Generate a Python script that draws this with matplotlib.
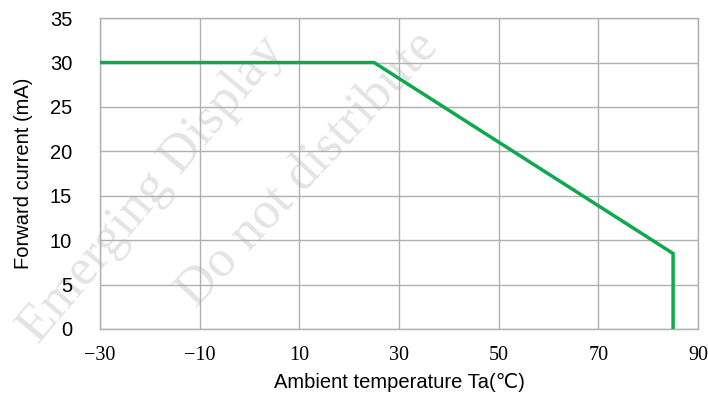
import numpy as np
import matplotlib.pyplot as plt

# Derating curve data
temp = [-30, 25, 85, 85]
current = [30, 30, 8.5, 0]

x_ticks = [-30, -10, 10, 30, 50, 70, 90]
y_ticks = [0, 5, 10, 15, 20, 25, 30, 35]

plt.rcParams['font.family'] = ['Liberation Sans', 'DejaVu Sans']

fig = plt.figure(figsize=(7.08, 3.94), dpi=100)
ax = fig.add_axes([0.1412, 0.165, 0.8447, 0.789])
ax.set_zorder(1)

# watermark
fig.text(0.215, 0.52, 'Emerging Display', fontsize=38, family='Liberation Serif',
         color='#e4e4e4', rotation=50, ha='center', va='center', zorder=0)
fig.text(0.435, 0.57, 'Do not distribute', fontsize=38, family='Liberation Serif',
         color='#e4e4e4', rotation=47, ha='center', va='center', zorder=0)

ax.plot(temp, current, color='#10a84e', linewidth=2.5, zorder=3, solid_joinstyle='miter')

ax.set_xlim(-30, 90)
ax.set_ylim(0, 35)
ax.set_xticks(x_ticks)
ax.set_yticks(y_ticks)
ax.set_xticklabels(['\u221230', '\u221210', '10', '30', '50', '70', '90'],
                   family='Liberation Serif', fontsize=14.5)
ax.set_yticklabels([str(v) for v in y_ticks], fontsize=14.5)
ax.tick_params(length=0)
ax.tick_params(axis='y', pad=20)
ax.tick_params(axis='x', pad=12)
ax.grid(True, color='#b0b0b0', linewidth=1)
for s in ax.spines.values():
    s.set_color('#b0b0b0')
    s.set_linewidth(1)
ax.set_facecolor('none')

ax.set_xlabel('Ambient temperature Ta(\u2103)', fontsize=14.5, labelpad=6)
ax.set_ylabel('Forward current (mA)', fontsize=14.5, labelpad=12)

plt.savefig('out.png', dpi=100)
